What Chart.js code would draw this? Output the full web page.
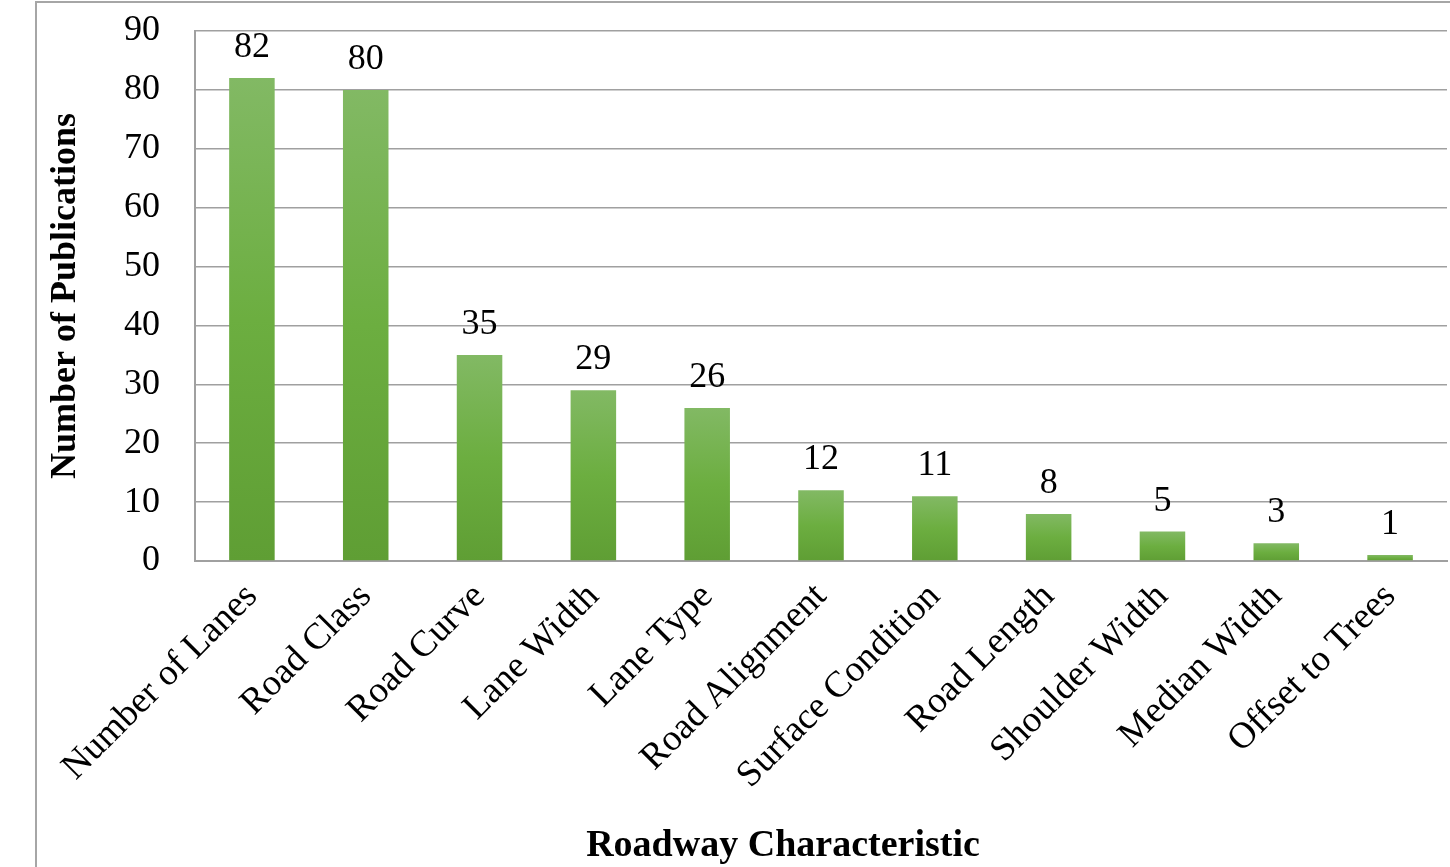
<!DOCTYPE html>
<html>
<head>
<meta charset="utf-8">
<title>Roadway Characteristic</title>
<script src="https://cdn.jsdelivr.net/npm/chart.js@4/dist/chart.umd.min.js"></script>
<style>
    html, body { margin: 0; padding: 0; background: #fff; overflow: hidden; }
    #frame {
        position: absolute; left: 35px; top: 1px; width: 3000px; height: 3000px;
        border-left: 2px solid #a6a6a6; border-top: 2px solid #a6a6a6;
    }
    #chart { position: absolute; left: 0; top: 0; }
</style>
</head>
<body>
<div id="frame"></div>
<canvas id="chart" width="1450" height="867"></canvas>
<script>
// Data
const categories = ['Number of Lanes', 'Road Class', 'Road Curve', 'Lane Width', 'Lane Type',
    'Road Alignment', 'Surface Condition', 'Road Length', 'Shoulder Width', 'Median Width', 'Offset to Trees'];
const publications = [82, 80, 35, 29, 26, 12, 11, 8, 5, 3, 1];
const yTicks = [0, 10, 20, 30, 40, 50, 60, 70, 80, 90];
const xTitle = 'Roadway Characteristic';

const serif = '"Liberation Serif", "Times New Roman", serif';

// Vertical green gradient for each bar, lighter at the top
function barGradient(context) {
    if (context.type !== 'data') return '#6aab3e';
    const chart = context.chart;
    if (!chart.chartArea) return '#6aab3e';
    const y = chart.scales.y;
    const top = y.getPixelForValue(context.raw);
    const bottom = y.getPixelForValue(0);
    const g = chart.ctx.createLinearGradient(0, top, 0, bottom);
    g.addColorStop(0, '#82b964');
    g.addColorStop(0.5, '#6cae40');
    g.addColorStop(1, '#5f9e34');
    return g;
}

// Value labels above the bars, plus the x axis title (sits a bit left of the plot centre)
const valueLabels = {
    id: 'valueLabels',
    afterDatasetsDraw(chart) {
        const ctx = chart.ctx;
        const meta = chart.getDatasetMeta(0);
        ctx.save();
        ctx.font = '36px ' + serif;
        ctx.fillStyle = '#000';
        ctx.textAlign = 'center';
        ctx.textBaseline = 'alphabetic';
        meta.data.forEach(function (bar, i) {
            ctx.fillText(publications[i], bar.x, bar.y - 21);
        });

        const area = chart.chartArea;
        ctx.font = 'bold 38px ' + serif;
        ctx.textBaseline = 'middle';
        ctx.fillText(xTitle, (area.left + area.right) / 2 - 38, chart.height - 21);
        ctx.restore();
    }
};

new Chart(document.getElementById('chart'), {
    type: 'bar',
    data: {
        labels: categories,
        datasets: [{
            label: 'Number of Publications',
            data: publications,
            backgroundColor: barGradient,
            borderWidth: 0,
            categoryPercentage: 1.0,
            barPercentage: 0.4
        }]
    },
    options: {
        responsive: false,
        animation: false,
        layout: { padding: { left: 40, top: 31, right: 3, bottom: 0 } },
        plugins: {
            legend: { display: false },
            tooltip: { enabled: false }
        },
        scales: {
            x: {
                grid: { display: false, drawTicks: false },
                border: { display: true, color: '#a0a0a0', width: 2 },
                ticks: {
                    color: '#000',
                    font: { family: serif, size: 37 },
                    maxRotation: 45,
                    minRotation: 45,
                    padding: 14,
                    autoSkip: false
                },
                afterFit: function (scale) { scale.height = 306; }
            },
            y: {
                min: 0,
                max: 90,
                afterBuildTicks: function (scale) {
                    scale.ticks = yTicks.map(function (v) { return { value: v }; });
                },
                grid: { color: '#a0a0a0', lineWidth: 1.5, drawTicks: false },
                border: { display: true, color: '#a0a0a0', width: 2 },
                ticks: {
                    color: '#000',
                    font: { family: serif, size: 36 },
                    padding: 35
                },
                title: {
                    display: true,
                    text: 'Number of Publications',
                    color: '#000',
                    font: { family: serif, size: 36, weight: 'bold' },
                    padding: { top: 4, bottom: 0 }
                },
                afterFit: function (scale) {
                    scale.width = 155;
                    scale.paddingTop = 0;
                    scale.paddingBottom = 0;
                }
            }
        }
    },
    plugins: [valueLabels]
});
</script>
</body>
</html>
